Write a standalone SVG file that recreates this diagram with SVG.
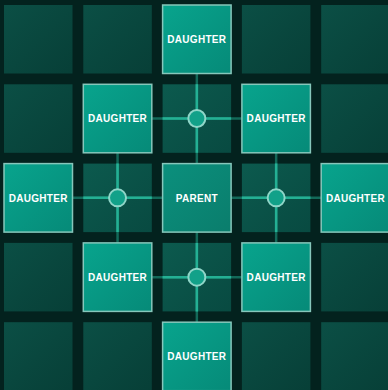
<svg xmlns="http://www.w3.org/2000/svg" width="388" height="390" viewBox="0 0 388 390">
<defs>
<linearGradient id="gDark" x1="0" y1="0" x2="1" y2="1"><stop offset="0" stop-color="#0b4f45"/><stop offset="1" stop-color="#073f37"/></linearGradient>
<linearGradient id="gCross" x1="0" y1="0" x2="1" y2="1"><stop offset="0" stop-color="#0c5a4e"/><stop offset="1" stop-color="#084a41"/></linearGradient>
<linearGradient id="gD" x1="0" y1="0" x2="1" y2="1"><stop offset="0" stop-color="#08a48d"/><stop offset="1" stop-color="#068a78"/></linearGradient>
<linearGradient id="gP" x1="0" y1="0" x2="1" y2="1"><stop offset="0" stop-color="#0b907d"/><stop offset="1" stop-color="#0a7d6c"/></linearGradient>
<clipPath id="crossClip">
<rect x="162.6" y="84.3" width="68.5" height="68.5"/>
<rect x="83.3" y="163.6" width="68.5" height="68.5"/>
<rect x="241.9" y="163.6" width="68.5" height="68.5"/>
<rect x="162.6" y="242.9" width="68.5" height="68.5"/>
</clipPath>
</defs>
<style>
.dark{fill:url(#gDark)}
.cross{fill:url(#gCross)}
.d{fill:url(#gD);stroke:#86c7bb;stroke-width:1.5}
.p{fill:url(#gP);stroke:#86c7bb;stroke-width:1.5}
.t{font-family:"Liberation Sans",Arial,sans-serif;font-weight:bold;font-size:10px;fill:#ffffff;text-anchor:middle;letter-spacing:0.3px}
.ln{stroke:#24b094;stroke-width:2.5;fill:none}
.dim{stroke-opacity:0.5}
.hub{fill:#12a189;stroke:#8fd6c8;stroke-width:2}
</style>
<rect width="388" height="390" fill="#03221e"/>
<g id="grid">
<rect class="dark" x="4" y="5" width="68.5" height="68.5"/>
<rect class="dark" x="83.3" y="5" width="68.5" height="68.5"/>
<rect class="dark" x="241.9" y="5" width="68.5" height="68.5"/>
<rect class="dark" x="321.2" y="5" width="68.5" height="68.5"/>
<rect class="dark" x="4" y="84.3" width="68.5" height="68.5"/>
<rect class="dark" x="321.2" y="84.3" width="68.5" height="68.5"/>
<rect class="dark" x="4" y="242.9" width="68.5" height="68.5"/>
<rect class="dark" x="321.2" y="242.9" width="68.5" height="68.5"/>
<rect class="dark" x="4" y="322.2" width="68.5" height="68.5"/>
<rect class="dark" x="83.3" y="322.2" width="68.5" height="68.5"/>
<rect class="dark" x="241.9" y="322.2" width="68.5" height="68.5"/>
<rect class="dark" x="321.2" y="322.2" width="68.5" height="68.5"/>
<rect class="cross" x="162.6" y="84.3" width="68.5" height="68.5"/>
<rect class="cross" x="83.3" y="163.6" width="68.5" height="68.5"/>
<rect class="cross" x="241.9" y="163.6" width="68.5" height="68.5"/>
<rect class="cross" x="162.6" y="242.9" width="68.5" height="68.5"/>
</g>
<g id="connectors">
<g class="ln dim">
<line x1="196.85" y1="73.5" x2="196.85" y2="163.6"/>
<line x1="151.8" y1="118.55" x2="241.9" y2="118.55"/>
<line x1="72.5" y1="197.85" x2="162.6" y2="197.85"/>
<line x1="117.55" y1="152.8" x2="117.55" y2="242.9"/>
<line x1="231.1" y1="197.85" x2="321.2" y2="197.85"/>
<line x1="276.15" y1="152.8" x2="276.15" y2="242.9"/>
<line x1="196.85" y1="232.1" x2="196.85" y2="322.2"/>
<line x1="151.8" y1="277.15" x2="241.9" y2="277.15"/>
</g>
<g class="ln" clip-path="url(#crossClip)">
<line x1="196.85" y1="73.5" x2="196.85" y2="163.6"/>
<line x1="151.8" y1="118.55" x2="241.9" y2="118.55"/>
<line x1="72.5" y1="197.85" x2="162.6" y2="197.85"/>
<line x1="117.55" y1="152.8" x2="117.55" y2="242.9"/>
<line x1="231.1" y1="197.85" x2="321.2" y2="197.85"/>
<line x1="276.15" y1="152.8" x2="276.15" y2="242.9"/>
<line x1="196.85" y1="232.1" x2="196.85" y2="322.2"/>
<line x1="151.8" y1="277.15" x2="241.9" y2="277.15"/>
</g>
<circle class="hub" cx="196.85" cy="118.55" r="8.5"/>
<circle class="hub" cx="117.55" cy="197.85" r="8.5"/>
<circle class="hub" cx="276.15" cy="197.85" r="8.5"/>
<circle class="hub" cx="196.85" cy="277.15" r="8.5"/>
</g>
<g id="parent"><rect class="p" x="162.6" y="163.6" width="68.5" height="68.5"/><text class="t" x="196.85" y="201.5">PARENT</text></g>
<g id="daughter-top"><rect class="d" x="162.6" y="5" width="68.5" height="68.5"/><text class="t" x="196.85" y="42.9">DAUGHTER</text></g>
<g id="daughter-upper-left"><rect class="d" x="83.3" y="84.3" width="68.5" height="68.5"/><text class="t" x="117.55" y="122.2">DAUGHTER</text></g>
<g id="daughter-upper-right"><rect class="d" x="241.9" y="84.3" width="68.5" height="68.5"/><text class="t" x="276.15" y="122.2">DAUGHTER</text></g>
<g id="daughter-left"><rect class="d" x="4" y="163.6" width="68.5" height="68.5"/><text class="t" x="38.25" y="201.5">DAUGHTER</text></g>
<g id="daughter-right"><rect class="d" x="321.2" y="163.6" width="68.5" height="68.5"/><text class="t" x="355.45" y="201.5">DAUGHTER</text></g>
<g id="daughter-lower-left"><rect class="d" x="83.3" y="242.9" width="68.5" height="68.5"/><text class="t" x="117.55" y="280.8">DAUGHTER</text></g>
<g id="daughter-lower-right"><rect class="d" x="241.9" y="242.9" width="68.5" height="68.5"/><text class="t" x="276.15" y="280.8">DAUGHTER</text></g>
<g id="daughter-bottom"><rect class="d" x="162.6" y="322.2" width="68.5" height="68.5"/><text class="t" x="196.85" y="360.1">DAUGHTER</text></g>
</svg>
